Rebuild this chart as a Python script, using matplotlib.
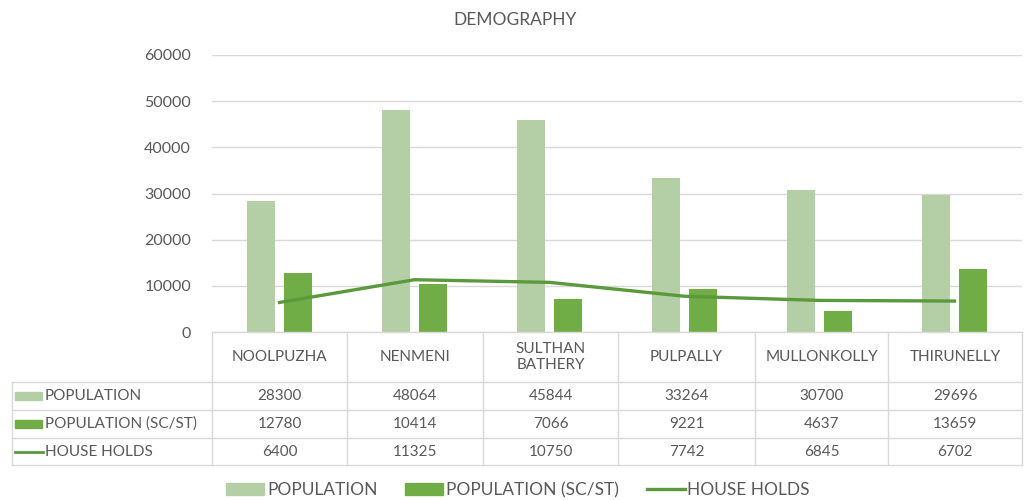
import numpy as np
import matplotlib.pyplot as plt
from matplotlib.lines import Line2D
from matplotlib.patches import Rectangle

plt.rcParams['font.family'] = ['Lato', 'DejaVu Sans']

places = ["NOOLPUZHA", "NENMENI", "SULTHAN\nBATHERY", "PULPALLY", "MULLONKOLLY", "THIRUNELLY"]
population = [28300, 48064, 45844, 33264, 30700, 29696]
population_scst = [12780, 10414, 7066, 9221, 4637, 13659]
households = [6400, 11325, 10750, 7742, 6845, 6702]
series_names = ["POPULATION", "POPULATION (SC/ST)", "HOUSE HOLDS"]

light = '#b4cfa6'
dark = '#70ad47'
line_col = '#5b9a3c'
grid_col = '#d9d9d9'
txt = '#595959'

W, H = 1026, 500
fig = plt.figure(figsize=(W / 100, H / 100), dpi=100)

# pixel helpers
def fx(px):
    return px / W

def fy(py):
    return 1 - py / H

left, right, top, bottom = 212, 1022, 55, 332
ax = fig.add_axes([fx(left), fy(bottom), fx(right - left), fy(top) - fy(bottom)])

x = np.arange(len(places))
bw = 0.21
ax.bar(x - 0.135, population, bw, color=light, zorder=2)
ax.bar(x + 0.135, population_scst, bw, color=dark, zorder=2)
ax.plot(x, households, color=line_col, lw=2.4, zorder=3)

ax.set_xlim(-0.5, len(places) - 0.5)
ax.set_ylim(0, 60000)
ax.set_yticks(range(0, 60001, 10000))
ax.yaxis.grid(True, color=grid_col, lw=1)
ax.set_axisbelow(True)
ax.set_xticks([])
for s in ax.spines.values():
    s.set_visible(False)
ax.tick_params(axis='y', length=0, pad=15, labelsize=11.5, labelcolor=txt)

fig.text(fx(515), fy(20), "DEMOGRAPHY", ha='center', va='center', fontsize=12.5, color=txt)

# data table under the axis
col_edges = [212, 347, 483, 618, 755, 888, 1022]
row_edges = [332, 382, 410, 438, 465]
tbl_left = 12
fs = 11

def hline(y, x0, x1):
    fig.add_artist(Line2D([fx(x0), fx(x1)], [fy(y), fy(y)], color=grid_col, lw=1))

def vline(xp, y0, y1):
    fig.add_artist(Line2D([fx(xp), fx(xp)], [fy(y0), fy(y1)], color=grid_col, lw=1))

hline(row_edges[0], col_edges[0], col_edges[-1])
for r in row_edges[1:]:
    hline(r, tbl_left, col_edges[-1])
vline(tbl_left, row_edges[1], row_edges[-1])
for c in col_edges:
    vline(c, row_edges[0], row_edges[-1])

for i, name in enumerate(places):
    cx = (col_edges[i] + col_edges[i + 1]) / 2
    fig.text(fx(cx), fy((row_edges[0] + row_edges[1]) / 2), name, ha='center', va='center',
             fontsize=fs, color=txt, linespacing=1.1)

rows = [population, population_scst, households]
for r, vals in enumerate(rows):
    cy = (row_edges[r + 1] + row_edges[r + 2]) / 2
    for i, v in enumerate(vals):
        cx = (col_edges[i] + col_edges[i + 1]) / 2
        fig.text(fx(cx), fy(cy), str(v), ha='center', va='center', fontsize=fs, color=txt)
    # legend key
    if r < 2:
        fig.add_artist(Rectangle((fx(15), fy(cy + 4)), fx(27), fy(cy - 4) - fy(cy + 4),
                                 color=[light, dark][r], transform=fig.transFigure))
    else:
        fig.add_artist(Line2D([fx(15), fx(43)], [fy(cy), fy(cy)], color=line_col, lw=2))
    fig.text(fx(45), fy(cy), series_names[r], ha='left', va='center', fontsize=fs, color=txt)

# bottom legend
handles = [Rectangle((0, 0), 1, 1, color=light), Rectangle((0, 0), 1, 1, color=dark),
           Line2D([], [], color=line_col, lw=2.4)]
fig.legend(handles, series_names, loc='center', bbox_to_anchor=(fx(518), fy(490)), ncol=3,
           frameon=False, fontsize=12.5, labelcolor=txt, handlelength=2.2, handleheight=0.7,
           handletextpad=0.15, columnspacing=1.6)

fig.savefig('out.png', dpi=100)
